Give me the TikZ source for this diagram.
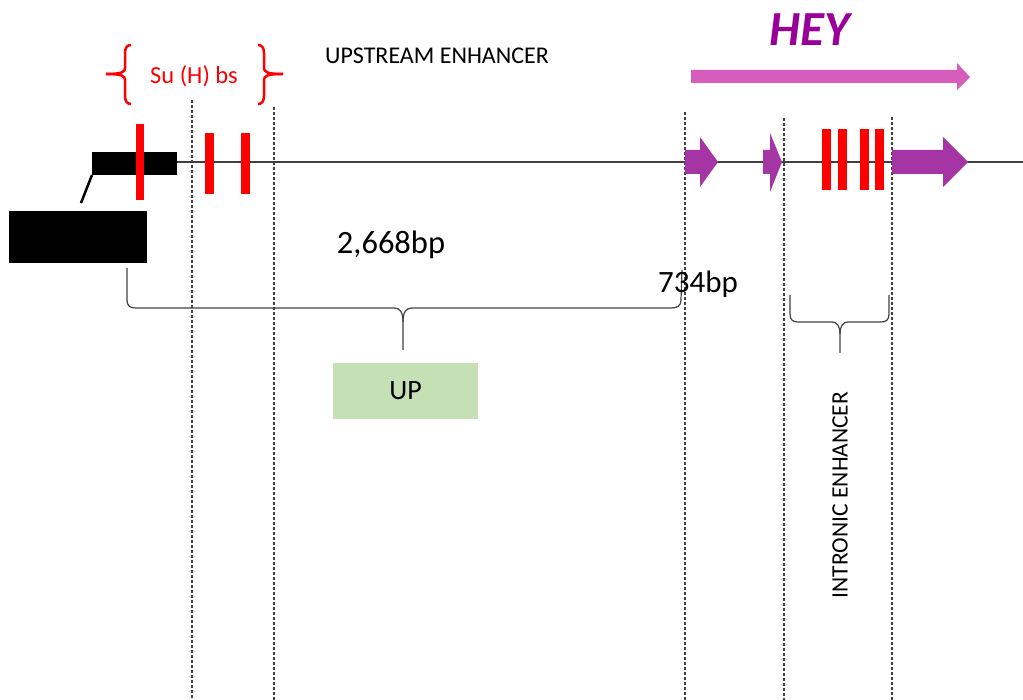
\documentclass[tikz,border=0pt]{standalone}
\usepackage{fontspec}
\setmainfont{Carlito}
\definecolor{heypurple}{HTML}{A535A5}
\definecolor{heypink}{HTML}{D65DBB}
\definecolor{heytext}{HTML}{990099}
\definecolor{upgreen}{HTML}{C5E0B4}
\definecolor{lgray}{HTML}{404040}

\begin{document}
\begin{tikzpicture}[x=1pt, y=-1pt,
	cut/.style={lgray, line width=1.3pt, dash pattern=on 3pt off 2pt},
	site/.style={fill=red, draw=none},
	exon/.style={fill=heypurple, draw=none},
	brace/.style={lgray, line width=1.2pt}]
	\useasboundingbox (0,0) rectangle (1023,700);
	
	% gene line and dashed borders
	\draw [lgray, line width=1.5pt] (177,162) -- (1023,162);
	\foreach \x/\y in {192/100, 274/107, 685/112, 784/118, 892/117}
		\draw [cut] (\x,\y) -- (\x,700);
	
	% black boxes
	\fill (92,152) rectangle (177,175);
	\draw [line width=2.5pt] (92,175) -- (81,203);
	\fill (9,211) rectangle (147,263);
	
	% Su(H) binding sites
	\fill [site] (136,124) rectangle (144,200);
	\foreach \x in {205,241}
		\fill [site] (\x,133) rectangle (\x+9,194);
	\foreach \x in {822,838,860,875}
		\fill [site] (\x,129) rectangle (\x+9,190);
	
	% exons
	\fill [exon] (685,150) -- (700,150) -- (700,137) -- (718,162) -- (700,187) -- (700,174) -- (685,174) -- cycle;
	\fill [exon] (763,150) -- (770,150) -- (770,133) -- (782,162) -- (770,192) -- (770,174) -- (763,174) -- cycle;
	\fill [exon] (892,150) -- (943,150) -- (943,137) -- (968,162) -- (943,187) -- (943,174) -- (892,174) -- cycle;
	\fill [heypink] (691,70) -- (957,70) -- (957,63) -- (970,77) -- (957,90) -- (957,83) -- (691,83) -- cycle;
	
	% red braces
	\draw [red, line width=2.5pt] (131,45) .. controls (127,45) and (125,48) .. (125,53) -- (125,68) .. controls (125,72) and (122,74) .. (106,74);
	\draw [red, line width=2.5pt] (131,104) .. controls (127,104) and (125,101) .. (125,96) -- (125,80) .. controls (125,76) and (122,74) .. (106,74);
	\draw [red, line width=2.5pt] (258,45) .. controls (262,45) and (264,48) .. (264,53) -- (264,68) .. controls (264,72) and (267,74) .. (283,74);
	\draw [red, line width=2.5pt] (258,104) .. controls (262,104) and (264,101) .. (264,96) -- (264,80) .. controls (264,76) and (267,74) .. (283,74);
	
	% lower braces
	\draw [brace] (127,268) -- (127,300) .. controls (127,306) and (130,308) .. (136,308) -- (394,308) .. controls (400,308) and (403,312) .. (403,322) -- (403,350);
	\draw [brace] (682,270) -- (681,300) .. controls (681,306) and (677,308) .. (671,308) -- (412,308) .. controls (406,308) and (403,312) .. (403,322);
	\draw [brace] (790,295) -- (790,314) .. controls (790,320) and (793,322) .. (798,322) -- (832,322) .. controls (837,322) and (840,326) .. (840,334) -- (840,353);
	\draw [brace] (889,295) -- (889,314) .. controls (889,320) and (886,322) .. (881,322) -- (848,322) .. controls (843,322) and (840,326) .. (840,334);
	
	% labels
	\node [red, font=\fontsize{24.5}{28}\selectfont] (suh) at (194,76) {Su (H) bs};
	\node [font=\fontsize{24}{28}\selectfont] (upstream) at (437,56) {UPSTREAM ENHANCER};
	\node [heytext, font=\fontsize{49}{54}\selectfont\bfseries\itshape] (hey) at (810,30) {HEY};
	\node [font=\fontsize{32.5}{36}\selectfont] (long) at (391,245) {2,668bp};
	\node [font=\fontsize{31}{34}\selectfont] (short) at (698,284) {734bp};
	\node [fill=upgreen, minimum width=145pt, minimum height=56pt, font=\fontsize{28}{32}\selectfont] (up) at (405.5,391) {UP};
	\node [rotate=90, font=\fontsize{23.5}{28}\selectfont] (intronic) at (840,495) {INTRONIC ENHANCER};
\end{tikzpicture}
\end{document}
